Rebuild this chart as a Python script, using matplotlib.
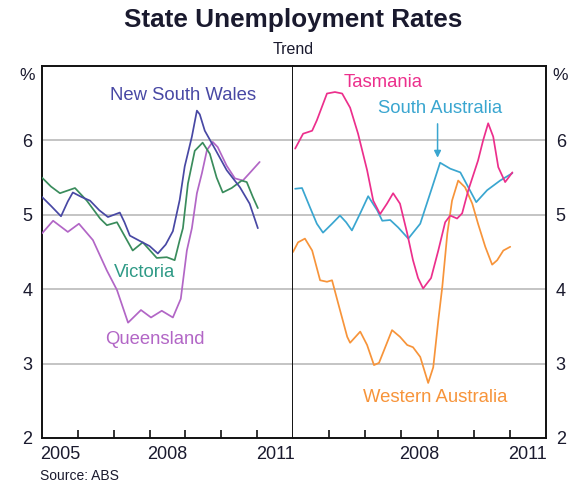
import matplotlib
matplotlib.use('Agg')
import matplotlib.pyplot as plt

plt.rcParams['font.family'] = ['Liberation Sans', 'DejaVu Sans']

# Left panel series (year, %)
nsw_t = [2005.00, 2005.25, 2005.53, 2005.72, 2005.86, 2006.10, 2006.34, 2006.60, 2006.84,
         2007.17, 2007.30, 2007.45, 2007.80, 2008.00, 2008.23, 2008.45, 2008.65, 2008.84,
         2008.98, 2009.18, 2009.32, 2009.40, 2009.54, 2009.82, 2010.15, 2010.52, 2010.79, 2011.02]
nsw_v = [5.24, 5.12, 4.98, 5.18, 5.30, 5.24, 5.19, 5.06, 4.97,
         5.03, 4.90, 4.72, 4.63, 4.58, 4.48, 4.60, 4.78, 5.20,
         5.65, 6.05, 6.40, 6.35, 6.13, 5.89, 5.60, 5.37, 5.15, 4.82]

vic_t = [2005.00, 2005.25, 2005.50, 2005.92, 2006.25, 2006.62, 2006.81, 2007.09, 2007.53,
         2007.81, 2008.20, 2008.48, 2008.70, 2008.84, 2008.93, 2009.07, 2009.26, 2009.48,
         2009.68, 2009.87, 2010.04, 2010.29, 2010.57, 2010.71, 2010.88, 2011.02]
vic_v = [5.50, 5.38, 5.29, 5.36, 5.19, 4.95, 4.86, 4.90, 4.52,
         4.63, 4.42, 4.43, 4.39, 4.66, 4.82, 5.42, 5.86, 5.97,
         5.82, 5.50, 5.30, 5.36, 5.46, 5.44, 5.24, 5.09]

qld_t = [2005.00, 2005.31, 2005.72, 2006.03, 2006.42, 2006.81, 2007.09, 2007.40, 2007.76,
         2008.04, 2008.34, 2008.65, 2008.87, 2009.04, 2009.18, 2009.32, 2009.46, 2009.60,
         2009.76, 2009.90, 2010.15, 2010.38, 2010.60, 2010.79, 2011.07]
qld_v = [4.75, 4.92, 4.77, 4.88, 4.66, 4.25, 3.99, 3.55, 3.72,
         3.62, 3.71, 3.62, 3.87, 4.52, 4.82, 5.29, 5.56, 5.87,
         5.98, 5.91, 5.66, 5.49, 5.46, 5.56, 5.71]

# Right panel series
tas_t = [2005.06, 2005.28, 2005.53, 2005.66, 2005.94, 2006.16, 2006.36, 2006.58, 2006.80,
         2007.05, 2007.22, 2007.41, 2007.60, 2007.77, 2007.96, 2008.16, 2008.32, 2008.46,
         2008.60, 2008.82, 2009.02, 2009.21, 2009.35, 2009.54, 2009.68, 2009.85, 2010.12,
         2010.26, 2010.40, 2010.54, 2010.68, 2010.87, 2011.07]
tas_v = [5.89, 6.09, 6.13, 6.27, 6.63, 6.65, 6.63, 6.44, 6.09,
         5.60, 5.19, 5.01, 5.15, 5.29, 5.15, 4.75, 4.39, 4.15,
         4.01, 4.15, 4.52, 4.90, 4.99, 4.95, 5.02, 5.33, 5.73,
         6.00, 6.23, 6.05, 5.64, 5.44, 5.57]

sa_t = [2005.06, 2005.25, 2005.47, 2005.66, 2005.83, 2006.08, 2006.30, 2006.47, 2006.63,
        2006.86, 2007.08, 2007.33, 2007.47, 2007.69, 2007.91, 2008.19, 2008.52, 2008.85,
        2009.07, 2009.35, 2009.63, 2009.85, 2010.07, 2010.37, 2010.73, 2011.07]
sa_v = [5.35, 5.36, 5.10, 4.88, 4.76, 4.88, 4.99, 4.90, 4.79,
        5.02, 5.25, 5.06, 4.92, 4.93, 4.83, 4.68, 4.88, 5.37,
        5.70, 5.62, 5.57, 5.37, 5.17, 5.33, 5.46, 5.56]

wa_t = [2005.00, 2005.14, 2005.33, 2005.53, 2005.75, 2005.94, 2006.08, 2006.25, 2006.50,
        2006.58, 2006.86, 2007.05, 2007.24, 2007.38, 2007.74, 2007.96, 2008.16, 2008.32,
        2008.52, 2008.74, 2008.88, 2009.02, 2009.13, 2009.27, 2009.40, 2009.57, 2009.76,
        2009.96, 2010.12, 2010.32, 2010.51, 2010.65, 2010.82, 2011.01]
wa_v = [4.50, 4.63, 4.68, 4.52, 4.12, 4.10, 4.12, 3.81, 3.36,
        3.28, 3.43, 3.25, 2.98, 3.01, 3.45, 3.36, 3.25, 3.22,
        3.09, 2.74, 2.95, 3.58, 4.03, 4.75, 5.19, 5.46, 5.37,
        5.15, 4.88, 4.57, 4.33, 4.39, 4.52, 4.57]

c_nsw = '#4848a4'
c_vic = '#3a8c5c'
c_qld = '#b266c6'
c_tas = '#ec2f8c'
c_sa = '#3aa6d0'
c_wa = '#f7943a'
txt = '#1a1a2e'

fig = plt.figure(figsize=(5.73, 4.83), dpi=100)
axL = fig.add_axes([42 / 573, 1 - 438 / 483, 251 / 573, 372 / 483])
axR = fig.add_axes([293 / 573, 1 - 438 / 483, 253 / 573, 372 / 483])

for ax in (axL, axR):
    ax.set_xlim(2005, 2012)
    ax.set_ylim(2, 7)
    for y in [3, 4, 5, 6]:
        ax.axhline(y, color='#b4b4b4', lw=1.1, zorder=1)
    for s in ax.spines.values():
        s.set_linewidth(1.4)
        s.set_color('#111111')
    ax.set_xticks(range(2006, 2012))
    ax.tick_params(axis='x', which='major', direction='in', length=6, width=1.2,
                   labelbottom=False, color='#111111')
    ax.tick_params(axis='x', which='minor', length=0, pad=6, labelsize=13, labelcolor=txt)
    ax.set_yticks([2, 3, 4, 5, 6])

axL.set_xticks([2005.5, 2008.5, 2011.5], minor=True)
axL.set_xticklabels(['2005', '2008', '2011'], minor=True)
axR.set_xticks([2008.5, 2011.5], minor=True)
axR.set_xticklabels(['2008', '2011'], minor=True)

axL.tick_params(axis='y', length=0, pad=7, labelsize=13, labelcolor=txt)
axR.tick_params(axis='y', length=0, pad=7, labelsize=13, labelcolor=txt,
                labelleft=False, labelright=True)
axR.spines['left'].set_visible(False)

lw = 1.25
kw = dict(lw=lw, zorder=3, solid_joinstyle='round', solid_capstyle='round')
axL.plot(qld_t, qld_v, color=c_qld, **kw)
axL.plot(vic_t, vic_v, color=c_vic, **kw)
axL.plot(nsw_t, nsw_v, color=c_nsw, **kw)
axR.plot(wa_t, wa_v, color=c_wa, **kw)
axR.plot(sa_t, sa_v, color=c_sa, **kw)
axR.plot(tas_t, tas_v, color=c_tas, **kw)

fs = 13.3
axL.text(2008.93, 6.60, 'New South Wales', color=c_nsw, fontsize=fs, ha='center', va='center')
axL.text(2007.87, 4.23, 'Victoria', color='#2f9a86', fontsize=fs, ha='center', va='center')
axL.text(2008.15, 3.32, 'Queensland', color=c_qld, fontsize=fs, ha='center', va='center')
axR.text(2007.49, 6.78, 'Tasmania', color=c_tas, fontsize=fs, ha='center', va='center')
axR.text(2009.07, 6.43, 'South Australia', color=c_sa, fontsize=fs, ha='center', va='center')
axR.text(2008.93, 2.55, 'Western Australia', color=c_wa, fontsize=fs, ha='center', va='center')
axR.annotate('', xy=(2009.0, 5.73), xytext=(2009.0, 6.26),
             arrowprops=dict(arrowstyle='-|>', color=c_sa, lw=1.1, mutation_scale=10))

fig.text(293 / 573, 1 - 20 / 483, 'State Unemployment Rates', ha='center', va='center',
         fontsize=18.8, fontweight='bold', color=txt)
fig.text(293 / 573, 1 - 50 / 483, 'Trend', ha='center', va='center', fontsize=11.5, color=txt)
fig.text(27 / 573, 1 - 75 / 483, '%', ha='center', va='center', fontsize=12.5, color=txt)
fig.text(560 / 573, 1 - 75 / 483, '%', ha='center', va='center', fontsize=12.5, color=txt)
fig.text(40 / 573, 1 - 476 / 483, 'Source: ABS', ha='left', va='center', fontsize=10, color=txt)

fig.savefig('out.png', dpi=100)
